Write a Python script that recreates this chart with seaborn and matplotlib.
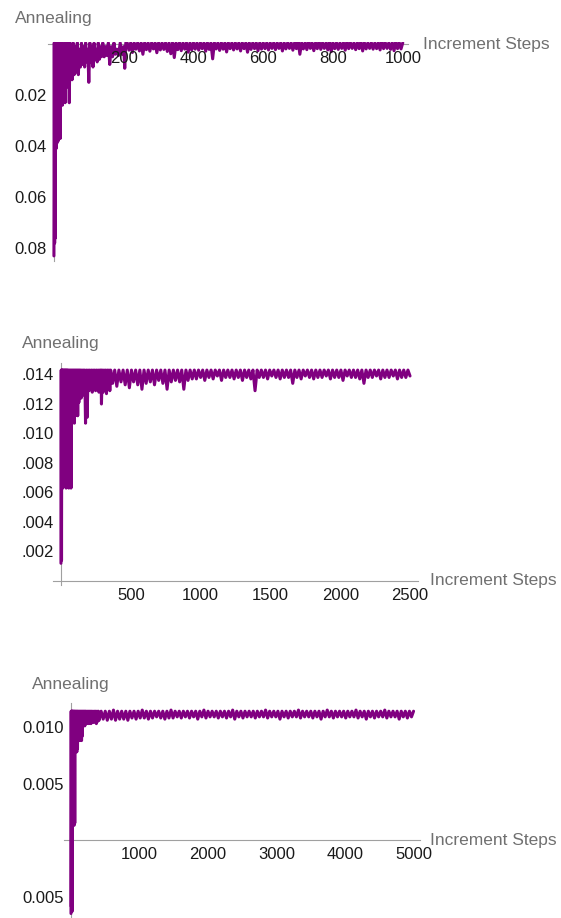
import numpy as np
import matplotlib
matplotlib.use("Agg")
import matplotlib.pyplot as plt
from matplotlib.ticker import MultipleLocator
import seaborn as sns

# values below are in units of 1e-3

# panel 1 : 1000 increment steps
steps1_early = [0, 1, 2, 3, 4, 5, 6, 7, 8, 9, 10, 11, 12, 13, 14, 15, 16, 17, 18, 19, 20,
                22, 24, 26, 28, 30, 32, 34, 36, 38, 40, 42, 44, 46, 48, 50, 52,
                55, 58, 61, 64, 67, 70, 73, 76, 79, 82, 85, 88, 91, 94, 97, 100, 103, 106,
                109, 112, 115, 118, 121, 124, 127, 130, 133, 136,
                140, 144, 148, 152, 156, 160, 164, 168, 172, 176, 180, 185, 190, 195, 200, 203, 206]
vals1_early = [-83, 0.5, -78, 0.4, -76, -2, -41, 0.5, -39, -1, -30, 0.4, -38, -1, -26, 0.5, -24, -2, -37, 0.4, -22,
               0.5, -24, -1, -19, 0.4, -23, -2, -17, 0.5, -15, -1, -23, 0.4, -14, -2, -14,
               0.5, -12, -1, -11, 0.5, -12, -2, -9, 0.4, -8, -1, -9, 0.5, -7, -2, -15, 0.5, -7,
               -1, -9, 0.4, -6, -2, -7, 0.5, -6, -1, -5,
               0.5, -5, -1, -4.5, 0.5, -8, -1, -5, 0.5, -4, -2, -4.5, 0.5, -4, -1, -9.5, 0.5]
# steady part, every 5 steps: tops at 210, 220 ... 1000, lows at 215, 225 ... 995
steps1_late = list(range(210, 1001, 5))
tops1 = [0.5, 0.5, 0.5, 0.5, 0.5, 0.5, 0.5, 0.5, 0.5, 0.5, 0.5, 0.5, 0.5, 0.5, 0.5, 0.5, 0.5, 0.5, 0.5, 0.5,
         0.5, 0.5, 0.5, 0.5, 0.5, 0.5, 0.5, 0.5, 0.5, 0.5, 0.5, 0.5, 0.5, 0.5, 0.5, 0.5, 0.5, 0.5, 0.5, 0.5,
         0.5, 0.5, 0.5, 0.5, 0.5, 0.5, 0.5, 0.5, 0.5, 1.3, 0.5, 0.5, 1.1, 0.5, 0.5, 1.2, 0.5, 0.5, 1.1, 0.5,
         0.5, 0.5, 0.5, 1.2, 0.5, 0.5, 0.5, 1.1, 0.5, 0.5, 0.5, 0.5, 0.5, 1.3, 0.5, 0.5, 0.5, 1.1, 0.5, 0.5]
lows1 = [-2.4, -3.3, -2.0, -2.7, -4.0, -2.2, -2.8, -1.9, -3.4, -2.3, -2.1, -2.9, -3.8, -5.3, -2.2, -2.6, -2.0, -3.2, -2.3,
         -2.0, -2.4, -1.8, -2.8, -2.1, -5.8, -1.9, -2.5, -2.0, -3.1, -1.8, -2.3, -1.9, -2.7, -1.8, -3.2, -2.1, -1.8, -2.6, -2.0,
         -1.8, -2.3, -1.7, -2.2, -1.7, -2.7, -1.9, -1.7, -2.4, -1.8, -4.0, -1.9, -2.2, -1.7, -2.6, -1.8, -2.1, -1.7, -2.3, -3.0,
         -1.8, -2.1, -1.7, -2.4, -1.8, -1.7, -2.2, -1.8, -2.7, -1.9, -1.7, -2.0, -1.8, -2.3, -1.8, -1.7, -2.1, -2.6, -1.8, -1.9]

# panel 2 : 2500 increment steps
steps2_early = [0, 2, 4, 6, 8, 10, 13, 16, 19, 22, 25, 28, 31, 34, 37, 40, 43, 46, 49, 52,
                56, 60, 64, 68, 72, 76, 80, 84, 88, 92, 96, 100, 104, 108, 112, 116, 120, 124, 128, 132, 136, 140,
                145, 150, 155, 160, 165, 170, 176, 182, 188, 194, 200, 206, 212, 218, 224, 230, 236, 242, 248, 254,
                260, 266, 272, 278, 284, 287, 290, 296, 302, 308, 314, 320, 326, 332, 338, 344, 350, 356]
vals2_early = [1.2, 14.3, 1.4, 14.3, 6.6, 14.3, 6.3, 14.3, 7.1, 14.3,
               6.5, 14.3, 8.1, 14.3, 6.3, 14.3, 9.7, 14.3, 9.9, 14.3,
               6.3, 14.3, 7.6, 14.3, 6.3, 14.3, 10.7, 14.3, 11.3, 14.3,
               10.7, 14.3, 11.2, 14.3, 11.9, 14.3, 11.2, 14.3, 12.1, 14.3,
               12.8, 14.3, 12.4, 14.3, 12.9, 14.3, 12.6, 14.3, 10.7, 14.3,
               11.1, 14.3, 12.9, 14.3, 13.0, 14.3, 12.8, 14.3, 13.1, 14.3,
               12.9, 14.3, 13.2, 14.3, 12.8, 14.3, 13.1, 14.3, 12.0, 14.3,
               12.8, 14.3, 13.1, 14.3, 12.7, 14.3, 13.2, 14.3, 12.9, 14.3]
# steady part, every 15 steps: lows at 370, 400 ... 2500, tops at 385, 415 ... 2485
steps2_late = list(range(370, 2501, 15))
lows2 = [13.4, 13.2, 13.5, 13.3, 13.1, 13.5, 13.3, 13.0, 13.4, 13.5,
         13.3, 13.6, 13.4, 13.0, 13.5, 13.6, 13.5, 13.0, 13.6, 13.7,
         13.7, 13.8, 13.6, 13.8, 13.7, 13.9, 13.6, 13.8, 13.8, 13.7,
         13.8, 13.6, 13.8, 13.7, 12.9, 13.8, 13.8, 13.7, 13.9, 13.8,
         13.7, 13.8, 13.8, 13.4, 13.8, 13.7, 13.9, 13.8, 13.7, 13.8,
         13.8, 13.9, 13.7, 13.8, 13.8, 13.6, 13.9, 13.8, 13.8, 13.7,
         13.4, 13.8, 13.8, 13.9, 13.7, 13.8, 13.8, 13.9, 13.7, 13.8, 13.8,
         13.9]
tops2 = [14.3, 14.3, 14.3, 14.3, 14.3, 14.3, 14.3, 14.3, 14.3, 14.3,
         14.3, 14.3, 14.3, 14.3, 14.3, 14.3, 14.3, 14.3, 14.3, 14.3,
         14.3, 14.3, 14.3, 14.3, 14.3, 14.3, 14.3, 14.3, 14.3, 14.3,
         14.3, 14.3, 14.3, 14.3, 14.3, 14.3, 14.3, 14.3, 14.3, 14.3,
         14.3, 14.3, 14.3, 14.3, 14.3, 14.3, 14.3, 14.3, 14.3, 14.3,
         14.3, 14.3, 14.3, 14.3, 14.3, 14.3, 14.3, 14.3, 14.3, 14.3,
         14.3, 14.3, 14.3, 14.3, 14.3, 14.3, 14.3, 14.3, 14.3, 14.3, 14.3]

# panel 3 : 5000 increment steps
steps3_early = [0, 3, 6, 9, 12, 15, 18, 21,
                25, 30, 35, 40, 45, 50, 55, 60, 65, 70, 75, 80, 85, 90, 95, 100,
                106, 112, 118, 124, 130, 136, 142, 148, 154, 160, 166, 172, 178, 184, 190, 196, 202, 208, 214, 220,
                228, 236, 244, 252, 260, 268, 276, 284, 292, 300,
                310, 320, 330, 340, 350, 360, 370, 380, 390, 400]
vals3_early = [-6.5, 11.4, -5.9, 11.4, -6.1, 11.4, -6.3, 11.4,
               1.3, 11.4, 1.4, 11.4, 1.3, 11.4, 1.5, 11.4, 7.8, 11.4, 7.9, 11.4, 7.8, 11.4, 8.1, 11.4,
               8.8, 11.4, 8.9, 11.4, 8.8, 11.4, 9.1, 11.4, 8.8, 11.4, 9.2, 11.4, 10.1, 11.4, 10.2, 11.4, 10.1, 11.4, 10.3, 11.4,
               10.3, 11.4, 10.5, 11.4, 10.3, 11.4, 10.4, 11.4, 10.3, 11.4,
               10.5, 11.4, 10.4, 11.4, 10.6, 11.4, 10.3, 11.4, 10.5, 11.4]
# steady part, every 30 steps: lows at 410, 470 ... 4970, tops at 440, 500 ... 5000
steps3_late = list(range(410, 5001, 30))
lows3 = [10.6, 10.7, 10.6, 10.7, 10.6, 10.7, 10.7, 10.6,
         10.8, 10.7, 10.8, 10.8, 10.7, 10.8, 10.9, 10.8, 10.7, 10.8, 10.8, 10.9,
         10.8, 10.9, 10.8, 10.9, 10.7, 10.9, 10.8, 10.9, 10.9, 10.8, 10.9, 10.8, 10.9, 10.7, 10.9, 10.8, 10.9, 10.9, 10.8, 10.9,
         10.9, 10.8, 10.9, 10.9, 10.7, 10.9, 10.8, 10.9, 10.9, 10.8, 10.9, 10.9, 10.8, 10.9, 10.7, 10.9, 10.9, 10.8, 10.9, 10.9,
         10.8, 10.9, 10.9, 10.8, 10.9, 10.7, 10.9, 10.8, 10.9, 10.9, 10.8, 10.9, 10.9, 10.7, 10.9, 10.8, 10.9]
tops3 = [11.4, 11.4, 11.4, 11.5, 11.4, 11.4, 11.4, 11.4, 11.4, 11.4,
         11.5, 11.4, 11.4, 11.4, 11.4, 11.4, 11.4, 11.5, 11.4, 11.4,
         11.4, 11.4, 11.4, 11.4, 11.4, 11.5, 11.4, 11.4, 11.4, 11.4,
         11.4, 11.4, 11.5, 11.4, 11.4, 11.4, 11.4, 11.4, 11.4, 11.4,
         11.5, 11.4, 11.4, 11.4, 11.4, 11.4, 11.4, 11.4, 11.5, 11.4,
         11.4, 11.4, 11.4, 11.4, 11.4, 11.5, 11.4, 11.4, 11.4, 11.4,
         11.4, 11.4, 11.5, 11.4, 11.4, 11.4, 11.4, 11.4, 11.4, 11.5,
         11.4, 11.4, 11.4, 11.4, 11.4, 11.4, 11.4]

# tick labels (mathematica style, no minus sign / no leading zero)
yticks1 = [-0.02, -0.04, -0.06, -0.08]
ylabels1 = ["0.02", "0.04", "0.06", "0.08"]
xticks1 = [200, 400, 600, 800, 1000]
yticks2 = [0.002, 0.004, 0.006, 0.008, 0.010, 0.012, 0.014]
ylabels2 = [".002", ".004", ".006", ".008", ".010", ".012", ".014"]
xticks2 = [500, 1000, 1500, 2000, 2500]
yticks3 = [0.010, 0.005, -0.005]
ylabels3 = ["0.010", "0.005", "0.005"]
xticks3 = [1000, 2000, 3000, 4000, 5000]

PURPLE = "#800080"
AXIS_GRAY = "#a0a0a0"
LABEL_GRAY = "#707070"
W, H = 561, 918

sns.set_style("white")
plt.rcParams['font.family'] = ['Liberation Sans', 'DejaVu Sans']
plt.rcParams['path.simplify'] = False  # keep every zigzag of the noisy trace


def interleave(first, second):
    # the trace alternates between the two lists, sample by sample
    out = []
    for i in range(len(first)):
        out.append(first[i])
        if i < len(second):
            out.append(second[i])
    return out


fig = plt.figure(figsize=(W / 100, H / 100), dpi=100)


def px_axes(left, top, right, bottom):
    return fig.add_axes([left / W, 1 - bottom / H, (right - left) / W, (bottom - top) / H])


def draw_panel(ax, steps, vals, xlim, ylim, xticks, yticks, ylabels, xminor, yminor):
    x = np.array(steps)
    y = np.array(vals) / 1000.0
    sns.lineplot(x=x, y=y, ax=ax, color=PURPLE, linewidth=2.2, estimator=None, sort=False)
    ax.set_xlim(*xlim)
    ax.set_ylim(*ylim)
    for s in ['top', 'right']:
        ax.spines[s].set_visible(False)
    ax.spines['left'].set_position(('data', 0))
    ax.spines['bottom'].set_position(('data', 0))
    for s in ['left', 'bottom']:
        ax.spines[s].set_color(AXIS_GRAY)
        ax.spines[s].set_linewidth(0.8)
        ax.spines[s].set_zorder(1)
    ax.set_xticks(xticks)
    ax.set_xticklabels([str(t) for t in xticks])
    ax.set_yticks(yticks)
    ax.set_yticklabels(ylabels)
    ax.xaxis.set_minor_locator(MultipleLocator(xminor))
    ax.yaxis.set_minor_locator(MultipleLocator(yminor))
    ax.tick_params(which='both', direction='in', color=AXIS_GRAY, width=0.8,
                   labelcolor='#1a1a1a', labelsize=12, pad=5)
    ax.tick_params(which='major', length=3)
    ax.tick_params(which='minor', length=1.6)
    ax.set_axisbelow(False)
    ax.set_xlabel("")
    ax.set_ylabel("")
    ax.patch.set_alpha(0)


ax1 = px_axes(48, 41.5, 408, 261)
draw_panel(ax1, steps1_early + steps1_late, vals1_early + interleave(tops1, lows1),
           (-17, 1015), (-0.085, 0.001), xticks1, yticks1, ylabels1, 50, 0.005)

ax2 = px_axes(53, 362.7, 418.4, 585.4)
draw_panel(ax2, steps2_early + steps2_late, vals2_early + interleave(lows2, tops2),
           (-57, 2560), (-0.0003, 0.0148), xticks2, yticks2, ylabels2, 100, 0.0005)

ax3 = px_axes(64, 703.3, 420.4, 918)
draw_panel(ax3, steps3_early + steps3_late, vals3_early + interleave(lows3, tops3),
           (-102, 5100), (-0.0069, 0.0121), xticks3, yticks3, ylabels3, 200, 0.001)

# axis names, placed like mathematica's AxesLabel
for (x, y) in [(15, 19), (22, 343), (32, 684)]:
    fig.text(x / W, 1 - y / H, "Annealing", color=LABEL_GRAY, fontsize=12.5, ha='left', va='center')
for (x, y) in [(423, 44), (430, 581), (430, 840)]:
    fig.text(x / W, 1 - y / H, "Increment Steps", color=LABEL_GRAY, fontsize=12.5, ha='left', va='center')

fig.savefig("out.png", dpi=100)
